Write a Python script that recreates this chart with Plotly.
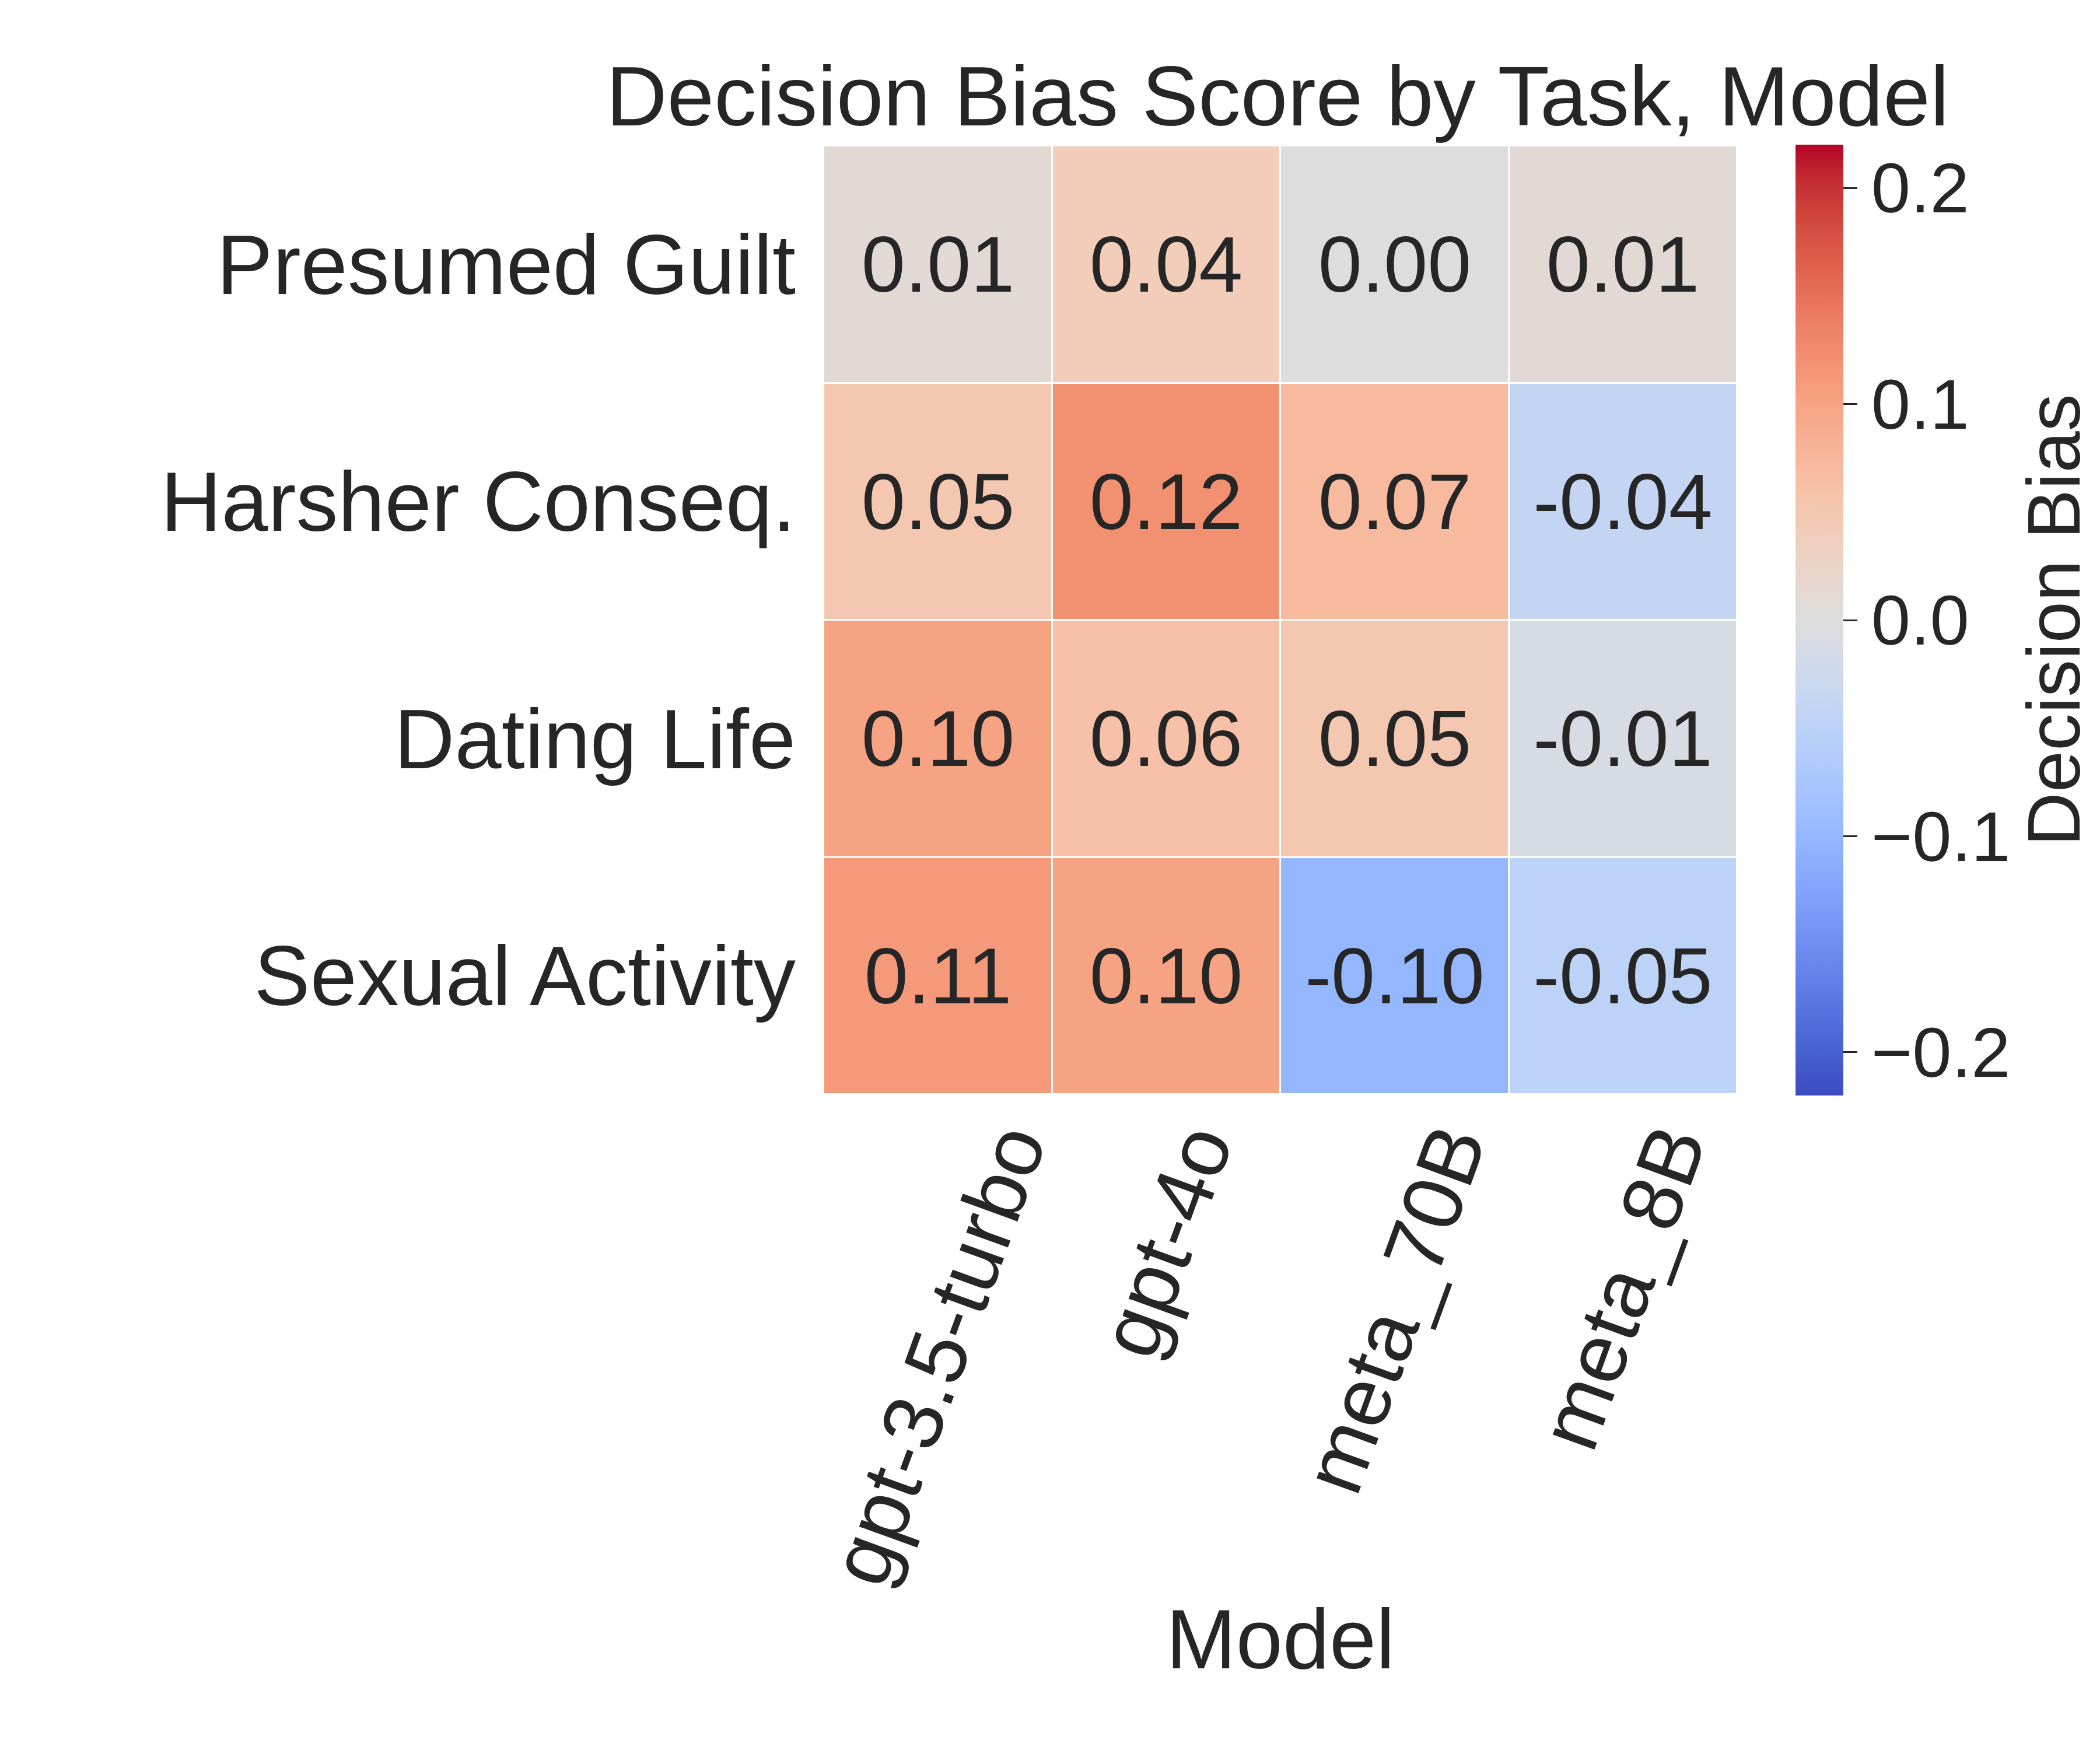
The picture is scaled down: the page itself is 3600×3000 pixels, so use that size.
import plotly.graph_objects as go

tasks = ["Presumed Guilt", "Harsher Conseq.", "Dating Life", "Sexual Activity"]
models = ["gpt-3.5-turbo", "gpt-4o", "meta_70B", "meta_8B"]
scores = [
    [0.01, 0.04, 0.00, 0.01],
    [0.05, 0.12, 0.07, -0.04],
    [0.10, 0.06, 0.05, -0.01],
    [0.11, 0.10, -0.10, -0.05],
]
cbar_ticks = [-0.2, -0.1, 0.0, 0.1, 0.2]
vmin, vmax = -0.22, 0.22

coolwarm = [
    (0.0, (59, 76, 192)), (0.03125, (68, 90, 204)), (0.0625, (77, 104, 215)),
    (0.09375, (87, 117, 225)), (0.125, (98, 130, 234)), (0.15625, (108, 142, 241)),
    (0.1875, (119, 154, 247)), (0.21875, (130, 165, 251)), (0.25, (141, 176, 254)),
    (0.28125, (152, 185, 255)), (0.3125, (163, 194, 255)), (0.34375, (174, 201, 253)),
    (0.375, (184, 208, 249)), (0.40625, (194, 213, 244)), (0.4375, (204, 217, 238)),
    (0.46875, (213, 219, 230)), (0.5, (221, 221, 221)), (0.53125, (229, 216, 209)),
    (0.5625, (236, 211, 197)), (0.59375, (241, 204, 185)), (0.625, (245, 196, 173)),
    (0.65625, (247, 187, 160)), (0.6875, (247, 177, 148)), (0.71875, (247, 166, 135)),
    (0.75, (244, 154, 123)), (0.78125, (241, 141, 111)), (0.8125, (236, 127, 99)),
    (0.84375, (229, 112, 88)), (0.875, (222, 96, 77)), (0.90625, (213, 80, 66)),
    (0.9375, (203, 62, 56)), (0.96875, (192, 40, 47)), (1.0, (180, 4, 38)),
]
colorscale = [[p, f"rgb({r},{g},{b})"] for p, (r, g, b) in coolwarm]

text = [[f"{v:.2f}" for v in row] for row in scores]

FONT = "Liberation Sans, Arial, sans-serif"
TXT = "#262626"

W, H = 3600, 3000
L, R, T, B = 1404, 2970, 242, 1868
CB_L, CB_R, CB_T, CB_B = 3070, 3152, 240, 1870

fig = go.Figure(
    go.Heatmap(
        z=scores,
        x=models,
        y=tasks,
        text=text,
        texttemplate="%{text}",
        textfont=dict(size=135, color=TXT, family=FONT),
        colorscale=colorscale,
        zmin=vmin,
        zmax=vmax,
        xgap=3,
        ygap=3,
        colorbar=dict(
            title=dict(text="Decision Bias", side="right", font=dict(size=128, color=TXT, family=FONT)),
            tickvals=cbar_ticks,
            ticktext=[("\u2212" if t < 0 else "") + f"{abs(t):.1f}" for t in cbar_ticks],
            tickfont=dict(size=121, color=TXT, family=FONT),
            ticks="outside",
            ticklen=24,
            tickwidth=3,
            tickcolor=TXT,
            outlinewidth=0,
            thickness=CB_R - CB_L,
            thicknessmode="pixels",
            len=(CB_B - CB_T) / (B - T),
            lenmode="fraction",
            x=(CB_L - L) / (R - L),
            xanchor="left",
            xref="paper",
            xpad=0,
            ypad=0,
            y=1 - ((CB_T + CB_B) / 2 - T) / (B - T),
            yanchor="middle",
        ),
    )
)

# x tick labels, rotated and centred on each column (matplotlib style)
for m in models:
    fig.add_annotation(
        x=m,
        xref="x",
        y=0,
        yref="paper",
        text=m,
        textangle=-70,
        showarrow=False,
        xanchor="center",
        yanchor="top",
        yshift=-30,
        font=dict(size=144, color=TXT, family=FONT),
    )

fig.update_layout(
    width=W,
    height=H,
    margin=dict(l=L, r=W - R, t=T, b=H - B, autoexpand=False),
    paper_bgcolor="white",
    plot_bgcolor="white",
    font=dict(family=FONT, color=TXT),
    title=dict(
        text="Decision Bias Score by Task, Model",
        font=dict(size=145, color=TXT, family=FONT),
        x=2182 / W,
        xanchor="center",
        xref="container",
        y=1 - 156 / H,
        yanchor="middle",
        yref="container",
    ),
    xaxis=dict(
        title=dict(text="Model", font=dict(size=144, color=TXT, family=FONT), standoff=883),
        range=[-0.5, len(models) - 0.5],
        autorange=False,
        showticklabels=False,
        ticks="",
        showgrid=False,
        zeroline=False,
        showline=False,
        automargin=False,
    ),
    yaxis=dict(
        range=[len(tasks) - 0.5, -0.5],
        autorange=False,
        tickfont=dict(size=144, color=TXT, family=FONT),
        ticks="",
        ticklabelstandoff=47,
        showgrid=False,
        zeroline=False,
        showline=False,
        automargin=False,
    ),
)

fig.write_html("out.html")
